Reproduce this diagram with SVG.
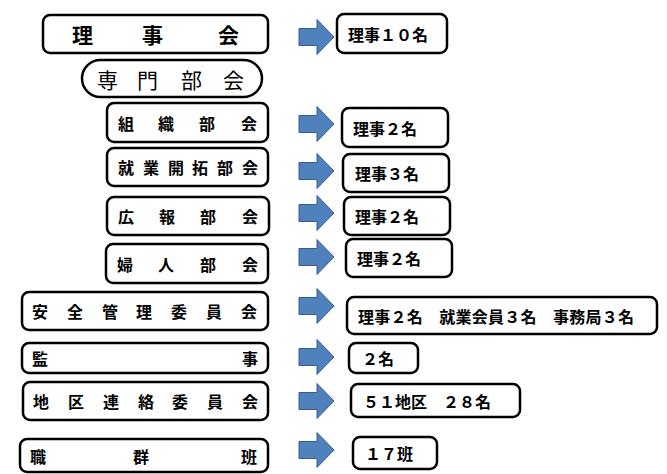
<svg xmlns="http://www.w3.org/2000/svg" width="667" height="474" viewBox="0 0 667 474">
<style>
.box{fill:#fff;stroke:#000;stroke-width:2.5}
.t{font-family:"Noto Sans CJK JP","Noto Sans CJK SC",sans-serif;font-weight:700;font-size:16px;fill:#000;dominant-baseline:central}
.big{font-size:21px}
.reg{font-weight:400}
.arr{fill:#4F81BD;stroke:#385D8A;stroke-width:1}
</style>
<defs>
<path id="arrow" class="arr" d="M0,-8.5 H18 V-17.5 L35,0 L18,17.5 V8.5 H0 Z"/>
</defs>
<rect width="667" height="474" fill="#fff"/>
<g id="n-rijikai"><rect class="box" x="43" y="15" width="225" height="38" rx="7"/><text class="t big" x="72 142 218" y="34">理事会</text></g>
<g id="n-senmon"><rect class="box" x="82" y="60" width="180" height="37" rx="18.5"/><text class="t big reg" x="97 137 181 223" y="78.5">専門部会</text></g>
<g id="n-soshiki"><rect class="box" x="107" y="103" width="161" height="39" rx="7"/><text class="t" x="118 158 199 241" y="122.5">組織部会</text></g>
<g id="n-shugyo"><rect class="box" x="107" y="148" width="161" height="38" rx="7"/><text class="t" x="118 143 168 192 217 242" y="167">就業開拓部会</text></g>
<g id="n-koho"><rect class="box" x="107" y="197" width="162" height="38" rx="7"/><text class="t" x="118 159 200 242" y="216">広報部会</text></g>
<g id="n-fujin"><rect class="box" x="106" y="244" width="162" height="39" rx="7"/><text class="t" x="117 158 200 242" y="263.5">婦人部会</text></g>
<g id="n-anzen"><rect class="box" x="22" y="292" width="246" height="38" rx="7"/><text class="t" x="32 67 102 136 171 206 241" y="311">安全管理委員会</text></g>
<g id="n-kanji"><rect class="box" x="22" y="343" width="246" height="30" rx="7"/><text class="t" x="32 242" y="358">監事</text></g>
<g id="n-chiku"><rect class="box" x="23" y="382" width="245" height="38" rx="7"/><text class="t" x="33 68 103 138 172 207 242" y="401">地区連絡委員会</text></g>
<g id="n-shokugun"><rect class="box" x="20" y="439" width="248" height="33" rx="7"/><text class="t" x="30 133 241" y="455.5">職群班</text></g>

<g id="connectors">
<use href="#arrow" x="299" y="37"/>
<use href="#arrow" x="299" y="124"/>
<use href="#arrow" x="299" y="171"/>
<use href="#arrow" x="299" y="213"/>
<use href="#arrow" x="299" y="257"/>
<use href="#arrow" x="299" y="306"/>
<use href="#arrow" x="299" y="357"/>
<use href="#arrow" x="299" y="401"/>
<use href="#arrow" x="299" y="450"/>
</g>

<g id="r-rijikai"><rect class="box" x="337" y="14" width="110" height="39" rx="7"/><text class="t" x="348" y="33.5">理事１０名</text></g>
<g id="r-soshiki"><rect class="box" x="342" y="108" width="106" height="39" rx="7"/><text class="t" x="353" y="127.5">理事２名</text></g>
<g id="r-shugyo"><rect class="box" x="343" y="154" width="106" height="38" rx="7"/><text class="t" x="355" y="173">理事３名</text></g>
<g id="r-koho"><rect class="box" x="344" y="197" width="106" height="38" rx="7"/><text class="t" x="355" y="216">理事２名</text></g>
<g id="r-fujin"><rect class="box" x="346" y="239" width="106" height="38" rx="7"/><text class="t" x="357" y="258">理事２名</text></g>
<g id="r-anzen"><rect class="box" x="347" y="297" width="310" height="37" rx="7"/><text class="t" x="358" y="315.5" textLength="276">理事２名　就業会員３名　事務局３名</text></g>
<g id="r-kanji"><rect class="box" x="349" y="343" width="69" height="30" rx="7"/><text class="t" x="362" y="358">２名</text></g>
<g id="r-chiku"><rect class="box" x="351" y="384" width="169" height="33" rx="7"/><text class="t" x="363" y="400.5">５１地区　２８名</text></g>
<g id="r-shokugun"><rect class="box" x="353" y="437" width="84" height="32" rx="7"/><text class="t" x="365" y="453">１７班</text></g>
</svg>
